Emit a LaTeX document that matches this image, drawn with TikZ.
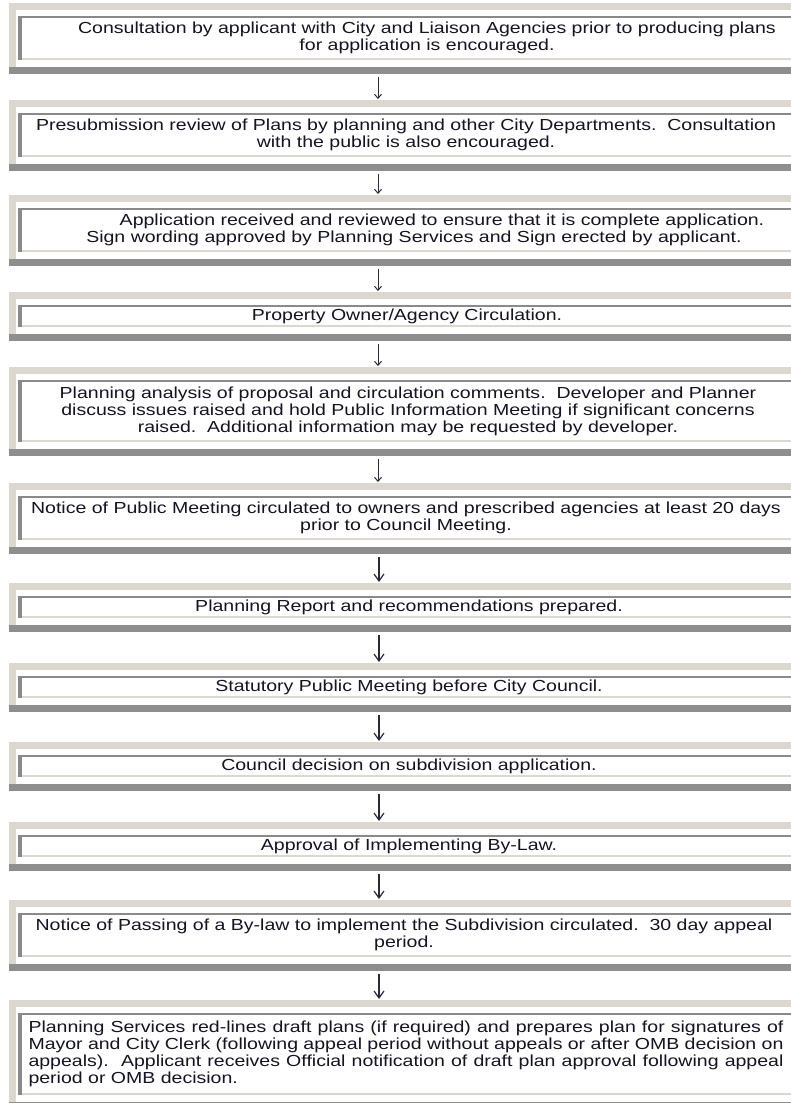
\documentclass[tikz,border=0pt]{standalone}
\usepackage{fontspec}
\setmainfont{Liberation Sans}[FakeStretch=1.22]
\usetikzlibrary{arrows.meta}

\definecolor{framebeige}{HTML}{DCD8D0}
\definecolor{framedark}{HTML}{8E8E8E}
\definecolor{innerline}{HTML}{8A8A8A}
\definecolor{inkblue}{HTML}{141424}
\definecolor{arrowink}{HTML}{2A2A3A}

\tikzset{
  stagetext/.style={text=inkblue, align=center, inner sep=0pt,
    font=\fontsize{16}{17}\selectfont},
  framenode/.style={inner sep=0pt, minimum width=782pt, anchor=north west},
  flowsmall/.style={draw=arrowink, line width=1pt,
    -{Straight Barb[length=4pt,width=7pt]}, shorten <=3pt, shorten >=1pt},
  flowbig/.style={draw=arrowink, line width=1.2pt,
    -{Straight Barb[length=7pt,width=10pt]}, shorten <=3pt, shorten >=1pt},
}

% #1 name, #2 top edge, #3 height of the inner panel, #4 text centre x, #5 text
\newcommand\stage[5]{%
  \fill[framebeige] (9,#2) rectangle (800,#2+#3+20);
  \fill[white] (16,#2+7) rectangle (800,#2+#3+20);
  \fill[framedark] (9,#2+#3+20) rectangle (800,#2+#3+27);
  \fill[innerline] (18,#2+13) rectangle (22,#2+#3+13);
  \fill[innerline] (18,#2+13) rectangle (800,#2+15);
  \fill[framebeige] (22,#2+#3+11) rectangle (800,#2+#3+13);
  \node[framenode, minimum height=#3+27] (#1) at (9,#2) {};
  \node[stagetext] (#1-t) at (#4,#2+13+#3/2) {#5};
}

\begin{document}
\begin{tikzpicture}[x=1pt,y=-1pt]
\useasboundingbox (0,0) rectangle (791,1103);
\clip (0,0) rectangle (791,1103);
\fill[white] (0,0) rectangle (791,1103);

\stage{s1}{3}{44}{427}{Consultation by applicant with City and Liaison Agencies prior to producing plans\\
  for application is encouraged.}
\stage{s2}{100}{44}{406}{Presubmission review of Plans by planning and other City Departments.\ \ Consultation\\
  with the public is also encouraged.}
\stage{s3}{195}{44}{414}{\hspace*{56pt}Application received and reviewed to ensure that it is complete application.\\
  Sign wording approved by Planning Services and Sign erected by applicant.}
\stage{s4}{292}{22}{407}{Property Owner/Agency Circulation.}
\stage{s5}{367}{62}{408}{Planning analysis of proposal and circulation comments.\ \ Developer and Planner\\
  discuss issues raised and hold Public Information Meeting if significant concerns\\
  raised.\ \ Additional information may be requested by developer.}
\stage{s6}{483}{44}{406}{Notice of Public Meeting circulated to owners and prescribed agencies at least 20 days\\
  prior to Council Meeting.}
\stage{s7}{583}{22}{409}{Planning Report and recommendations prepared.}
\stage{s8}{663}{22}{409}{Statutory Public Meeting before City Council.}
\stage{s9}{742}{22}{409}{Council decision on subdivision application.}
\stage{s10}{822}{22}{409}{Approval of Implementing By-Law.}
\stage{s11}{900}{44}{404}{Notice of Passing of a By-law to implement the Subdivision circulated.\ \ 30 day appeal\\
  period.}
\stage{s12}{1000}{82}{406}{%
  \makebox[755pt][s]{Planning Services red-lines draft plans (if required) and prepares plan for signatures of}\\
  \makebox[755pt][s]{Mayor and City Clerk (following appeal period without appeals or after OMB decision on}\\
  \makebox[755pt][s]{appeals).\ \ Applicant receives Official notification of draft plan approval following appeal}\\
  \makebox[755pt][l]{period or OMB decision.}}

\coordinate (ax) at (378,0);
\coordinate (bx) at (379,0);
\draw[flowsmall] (s1.south -| ax) -- (s2.north -| ax);
\draw[flowsmall] (s2.south -| ax) -- (s3.north -| ax);
\draw[flowsmall] (s3.south -| ax) -- (s4.north -| ax);
\draw[flowsmall] (s4.south -| ax) -- (s5.north -| ax);
\draw[flowsmall] (s5.south -| ax) -- (s6.north -| ax);
\draw[flowbig] (s6.south -| bx) -- (s7.north -| bx);
\draw[flowbig] (s7.south -| bx) -- (s8.north -| bx);
\draw[flowbig] (s8.south -| bx) -- (s9.north -| bx);
\draw[flowbig] (s9.south -| bx) -- (s10.north -| bx);
\draw[flowbig] (s10.south -| bx) -- (s11.north -| bx);
\draw[flowbig] (s11.south -| bx) -- (s12.north -| bx);
\end{tikzpicture}
\end{document}
